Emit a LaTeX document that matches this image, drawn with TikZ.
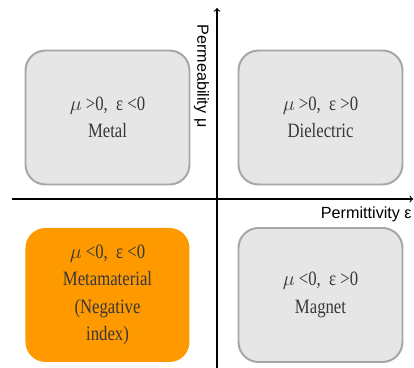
\documentclass[tikz,border=0pt]{standalone}
\usepackage{fontspec}
\setmainfont{Liberation Serif}
\setsansfont{Liberation Sans}
\newfontfamily\quadfont[FakeStretch=0.82]{Liberation Serif}

\definecolor{boxgray}{HTML}{E6E6E6}
\definecolor{edgegray}{HTML}{A6A6A6}
\definecolor{metaorange}{HTML}{FF9900}

\tikzset{
  quadrant/.style={rectangle, rounded corners=0.5cm, minimum width=4.1cm,
    minimum height=3.35cm, align=center, text=black!78,
    font=\quadfont\fontsize{14.5}{19.6}\selectfont,
    execute at begin node={\rule{0pt}{24pt}}},
  plainbox/.style={quadrant, fill=boxgray, draw=edgegray, line width=1.4pt},
  metabox/.style={quadrant, fill=metaorange},
  axislabel/.style={font=\sffamily\fontsize{11.5}{13}\selectfont}
}

\begin{document}
\begin{tikzpicture}
    \useasboundingbox (0,0) rectangle (10.35,9.2);
    \clip (0,0) rectangle (10.35,9.2);

    % the four quadrants
    \node[plainbox] (metal) at (2.6875, 6.2625) {$\mu$ >0,\ \ ε <0\\Metal};
    \node[plainbox] (dielectric) at (8.0125, 6.2625) {$\mu$ >0,\ \ ε >0\\Dielectric};
    \node[metabox] (meta) at (2.6875, 1.825) {$\mu$ <0,\ \ ε <0\\Metamaterial\\(Negative\\index)};
    \node[plainbox] (magnet) at (8.0125, 1.825) {$\mu$ <0,\ \ ε >0\\Magnet};

    % axes
    \coordinate (xstart) at (0.3, 4.225);
    \coordinate (xend) at (10.33, 4.225);
    \coordinate (ystart) at (5.425, 0);
    \coordinate (yend) at (5.425, 9.0);
    \draw[thick, ->] (xstart) -- (xend);
    \draw[thick, ->] (ystart) -- (yend);

    \node[axislabel, rotate=-90] (mulabel) at (5.04, 7.3) {Permeability μ};
    \node[axislabel, anchor=west] (epslabel) at (7.9, 3.83) {Permittivity ε};
  \end{tikzpicture}
\end{document}
